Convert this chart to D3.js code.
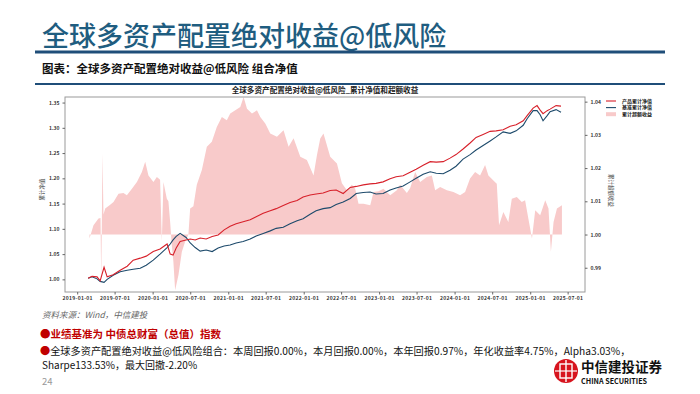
<!DOCTYPE html>
<html>
<head>
<meta charset="utf-8">
<script src="https://cdn.jsdelivr.net/npm/d3@7"></script>
<style>
  body { margin: 0; background: #fff; }
  svg { display: block; }
  text { font-family: "Noto Sans CJK SC", "Noto Sans", sans-serif; }
</style>
</head>
<body>
<svg id="chart" width="700" height="394"></svg>
<script>
// ---- data ----
const navDates = ["2019-02-23","2019-03-14","2019-04-07","2019-04-22","2019-05-11","2019-05-26","2019-06-24","2019-07-28","2019-08-31","2019-09-29","2019-11-02","2019-12-01",
  "2020-01-04","2020-02-06","2020-03-11","2020-03-26","2020-04-09","2020-04-24","2020-05-13","2020-06-11","2020-07-01","2020-07-25","2020-08-18","2020-09-16","2020-10-15","2020-11-13","2020-12-12",
  "2021-01-10","2021-02-08","2021-03-14","2021-04-17","2021-05-16","2021-06-19","2021-07-23","2021-08-21","2021-09-24","2021-10-27","2021-11-30","2021-12-29",
  "2022-02-01","2022-03-02","2022-04-05","2022-05-09","2022-06-07","2022-07-11","2022-08-14","2022-09-12","2022-10-16","2022-11-18","2022-12-17",
  "2023-01-20","2023-02-23","2023-03-24","2023-04-27","2023-05-31","2023-06-29","2023-08-02","2023-09-05","2023-10-04","2023-11-07","2023-12-10",
  "2024-01-08","2024-02-11","2024-03-16","2024-04-14","2024-05-18","2024-06-21","2024-07-20","2024-08-23","2024-09-26","2024-10-25","2024-11-28","2024-12-17",
  "2025-01-15","2025-02-03","2025-02-18","2025-03-04","2025-03-24","2025-04-07","2025-05-06","2025-05-30"];

const productNav = [1.002,1.006,1.005,0.997,1.024,1.005,1.009,1.018,1.026,1.038,1.042,1.046,
  1.055,1.060,1.070,1.050,1.048,1.062,1.075,1.078,1.080,1.078,1.082,1.080,1.085,1.088,1.098,
  1.105,1.110,1.114,1.118,1.124,1.131,1.136,1.140,1.146,1.152,1.156,1.163,
  1.167,1.169,1.171,1.176,1.177,1.170,1.182,1.184,1.187,1.189,1.190,
  1.193,1.199,1.203,1.205,1.212,1.218,1.226,1.233,1.232,1.233,1.240,
  1.247,1.258,1.270,1.281,1.287,1.293,1.294,1.296,1.303,1.306,1.314,1.324,
  1.339,1.344,1.335,1.328,1.334,1.337,1.344,1.343];

const benchNav = [1.002,1.005,1.001,0.996,0.994,1.000,1.008,1.015,1.018,1.020,1.022,1.028,
  1.038,1.050,1.063,1.070,1.078,1.085,1.091,1.083,1.072,1.063,1.056,1.058,1.055,1.062,1.066,
  1.068,1.072,1.075,1.080,1.086,1.091,1.096,1.101,1.103,1.110,1.116,1.120,
  1.129,1.136,1.140,1.142,1.148,1.153,1.160,1.170,1.172,1.173,1.169,
  1.170,1.177,1.181,1.185,1.193,1.200,1.208,1.213,1.210,1.209,1.216,
  1.224,1.238,1.247,1.256,1.265,1.274,1.282,1.292,1.289,1.294,1.305,1.318,
  1.334,1.334,1.326,1.314,1.324,1.332,1.336,1.331];

// excess return: time as decimal year, value on the right axis
const excessT = [2019.163,2019.216,2019.282,2019.309,2019.318,2019.327,2019.335,2019.348,2019.371,2019.437,2019.481,2019.547,2019.613,2019.658,2019.725,2019.791,2019.857,2019.901,2019.944,
  2020.011,2020.056,2020.099,2020.122,2020.143,2020.188,2020.209,2020.232,2020.254,2020.275,2020.298,2020.342,2020.387,2020.430,2020.474,2020.497,2020.540,2020.585,2020.652,2020.718,2020.784,2020.850,2020.917,2020.983,
  2021.026,2021.093,2021.159,2021.203,2021.248,2021.314,2021.380,2021.424,2021.490,2021.556,2021.645,2021.732,2021.799,2021.865,2021.954,
  2022.042,2022.130,2022.175,2022.219,2022.262,2022.351,2022.440,2022.506,2022.572,2022.638,2022.682,2022.726,2022.792,2022.881,2022.925,2022.991,
  2023.057,2023.146,2023.234,2023.278,2023.367,2023.411,2023.477,2023.543,2023.632,2023.698,2023.742,2023.808,2023.897,2023.984,
  2024.073,2024.139,2024.205,2024.272,2024.338,2024.404,2024.448,2024.514,2024.559,2024.589,2024.646,2024.712,2024.758,2024.824,2024.890,2024.934,2024.977,
  2025.023,2025.066,2025.132,2025.199,2025.242,2025.274,2025.309,2025.354,2025.420];

const excessValues = [0.9988,1.0028,1.0048,1.0050,0.9857,1.0050,1.0244,1.0060,1.0078,1.0090,1.0098,1.0123,1.0125,1.0118,1.0138,1.0158,1.0188,1.0219,1.0178,
  1.0158,1.0173,1.0165,0.9978,1.0158,1.0108,1.0100,1.0038,0.9968,0.9918,0.9832,0.9878,0.9948,0.9978,1.0000,1.0078,1.0085,1.0150,1.0194,1.0264,1.0279,1.0324,1.0354,1.0344,
  1.0364,1.0374,1.0384,1.0414,1.0379,1.0364,1.0374,1.0354,1.0334,1.0304,1.0294,1.0314,1.0264,1.0290,1.0234,
  1.0224,1.0178,1.0239,1.0289,1.0304,1.0234,1.0214,1.0154,1.0133,1.0150,1.0138,1.0093,1.0093,1.0088,1.0128,1.0130,
  1.0138,1.0118,1.0133,1.0150,1.0125,1.0140,1.0188,1.0158,1.0173,1.0178,1.0133,1.0143,1.0133,1.0128,
  1.0118,1.0128,1.0169,1.0188,1.0178,1.0209,1.0178,1.0163,1.0153,1.0028,1.0068,1.0038,1.0108,1.0113,1.0098,1.0103,1.0048,
  0.9988,1.0073,1.0058,1.0103,1.0078,0.9948,1.0038,1.0078,1.0088];

const xTickLabels = ["2019-01-01","2019-07-01","2020-01-01","2020-07-01","2021-01-01","2021-07-01","2022-01-01","2022-07-01",
  "2023-01-01","2023-07-01","2024-01-01","2024-07-01","2025-01-01","2025-07-01"];
const leftTicks = [1.00,1.05,1.10,1.15,1.20,1.25,1.30,1.35];
const rightTicks = [0.99,1.00,1.01,1.02,1.03,1.04];
const seriesNames = ["产品累计净值","基准累计净值","累计超额收益"];
const colors = ["#d7202a","#1d4a6b","#f8caca"];

// ---- layout ----
const svg = d3.select("#chart");
const margin = {top: 97, right: 115, bottom: 102, left: 65};
const width = 700 - margin.left - margin.right;
const height = 394 - margin.top - margin.bottom;

const parseDate = d3.timeParse("%Y-%m-%d");
function fromDecimalYear(t) {
  const y = Math.floor(t);
  const start = new Date(y, 0, 1).getTime();
  return new Date(start + (t - y) * 365.25 * 86400000);
}

const navData = navDates.map(function(d, i) {
  return {date: parseDate(d), p: productNav[i], b: benchNav[i]};
});
const excessData = excessT.map(function(t, i) {
  return {date: fromDecimalYear(t), v: excessValues[i]};
});

const xScale = d3.scaleTime()
  .domain([new Date(2018, 10, 3), new Date(2025, 8, 23)])
  .range([0, width]);
const yLeft = d3.scaleLinear().domain([0.975, 1.361]).range([height, 0]);
const yRight = d3.scaleLinear().domain([0.9827, 1.0414]).range([height, 0]);

// ---- page header ----
svg.append("text")
  .attr("x", 42).attr("y", 46)
  .attr("font-size", 27).attr("font-weight", 500)
  .attr("fill", "#1f5d80")
  .text("全球多资产配置绝对收益@低风险");
svg.append("rect").attr("x", 35).attr("y", 50.5).attr("width", 630).attr("height", 3).attr("fill", "#1f4e79");
svg.append("text")
  .attr("x", 42).attr("y", 73)
  .attr("font-size", 11.5).attr("font-weight", 700)
  .attr("fill", "#111")
  .text("图表：全球多资产配置绝对收益@低风险  组合净值");
svg.append("rect").attr("x", 35).attr("y", 83).attr("width", 630).attr("height", 2).attr("fill", "#1f4e79");

// ---- chart ----
const g = svg.append("g").attr("transform", "translate(" + margin.left + "," + margin.top + ")");

const area = d3.area()
  .x(function(d) { return xScale(d.date); })
  .y0(yRight(1.0))
  .y1(function(d) { return yRight(d.v); });

g.append("path")
  .datum(excessData)
  .attr("fill", colors[2])
  .attr("d", area);

const lineP = d3.line().x(function(d) { return xScale(d.date); }).y(function(d) { return yLeft(d.p); });
const lineB = d3.line().x(function(d) { return xScale(d.date); }).y(function(d) { return yLeft(d.b); });

g.append("path").datum(navData)
  .attr("fill", "none").attr("stroke", colors[1]).attr("stroke-width", 1.1)
  .attr("d", lineB);
g.append("path").datum(navData)
  .attr("fill", "none").attr("stroke", colors[0]).attr("stroke-width", 1.1)
  .attr("d", lineP);

// frame
g.append("rect")
  .attr("width", width).attr("height", height)
  .attr("fill", "none").attr("stroke", "#9a9a9a").attr("stroke-width", 1);

// axes
const xAxis = d3.axisBottom(xScale)
  .tickValues(xTickLabels.map(parseDate))
  .tickFormat(d3.timeFormat("%Y-%m-%d"))
  .tickSize(2.5).tickPadding(2);
const gx = g.append("g").attr("transform", "translate(0," + height + ")").call(xAxis);

const gl = g.append("g").call(d3.axisLeft(yLeft).tickValues(leftTicks).tickFormat(d3.format(".2f")).tickSize(2.5).tickPadding(3));
const gr = g.append("g").attr("transform", "translate(" + width + ",0)")
  .call(d3.axisRight(yRight).tickValues(rightTicks).tickFormat(d3.format(".2f")).tickSize(2.5).tickPadding(3));

[gx, gl, gr].forEach(function(ax) {
  ax.select(".domain").remove();
  ax.selectAll(".tick line").attr("stroke", "#666");
  ax.selectAll(".tick text")
    .attr("font-size", 5).attr("font-weight", 700).attr("fill", "#333")
    .attr("font-family", "DejaVu Sans");
});
gx.selectAll(".tick text").attr("letter-spacing", 0.3);

// axis titles
g.append("text")
  .attr("transform", "translate(-21," + (height / 2 - 5) + ") rotate(-90)")
  .attr("text-anchor", "middle").attr("font-size", 5.5).attr("fill", "#444")
  .text("累计净值");
g.append("text")
  .attr("transform", "translate(" + (width + 24) + "," + (height / 2 - 4) + ") rotate(90)")
  .attr("text-anchor", "middle").attr("font-size", 5.5).attr("fill", "#444")
  .text("累计超额收益");

// chart title
g.append("text")
  .attr("x", width / 2).attr("y", -4)
  .attr("text-anchor", "middle")
  .attr("font-size", 7.6).attr("font-weight", 700).attr("fill", "#222")
  .text("全球多资产配置绝对收益@低风险_累计净值和超额收益");

// legend
const legend = svg.append("g").attr("transform", "translate(606,101)");
seriesNames.forEach(function(name, i) {
  const row = legend.append("g").attr("transform", "translate(0," + (i * 6.6) + ")");
  if (i < 2) {
    row.append("line").attr("x1", 0).attr("x2", 10).attr("y1", 0).attr("y2", 0)
      .attr("stroke", colors[i]).attr("stroke-width", 1.1);
  } else {
    row.append("rect").attr("x", 0).attr("y", -2).attr("width", 10).attr("height", 4).attr("fill", colors[2]);
  }
  row.append("text").attr("x", 16).attr("y", 1.8).attr("font-size", 5).attr("font-weight", 700)
    .attr("fill", "#222").text(name);
});

// ---- footer ----
svg.append("text")
  .attr("x", 42).attr("y", 318)
  .attr("font-size", 8.5).attr("font-style", "italic").attr("fill", "#666")
  .text("资料来源：Wind，中信建投");

const f1 = svg.append("text").attr("x", 40).attr("y", 338)
  .attr("font-size", 10.5).attr("font-weight", 700).attr("fill", "#c00000");
f1.append("tspan").text("●业绩基准为 ");
f1.append("tspan").text("中债总财富（总值）指数");

const f2 = svg.append("text").attr("x", 40).attr("y", 354.5).attr("font-size", 10.2).attr("fill", "#111");
f2.append("tspan").attr("fill", "#c00000").text("●");
f2.append("tspan").text("全球多资产配置绝对收益@低风险组合：本周回报0.00%，本月回报0.00%，本年回报0.97%，年化收益率4.75%，Alpha3.03%，");
svg.append("text").attr("x", 42).attr("y", 369).attr("font-size", 10).attr("fill", "#111")
  .text("Sharpe133.53%，最大回撤-2.20%");
svg.append("text").attr("x", 42).attr("y", 385).attr("font-size", 9.5).attr("fill", "#999").text("24");

// logo
const logo = svg.append("g").attr("transform", "translate(566,371)");
logo.append("circle").attr("r", 12).attr("fill", "#d7141e");
logo.append("rect").attr("x", -6).attr("y", -7).attr("width", 12).attr("height", 14)
  .attr("fill", "none").attr("stroke", "#fff").attr("stroke-width", 1.4);
logo.append("line").attr("x1", 0).attr("x2", 0).attr("y1", -11).attr("y2", 11).attr("stroke", "#fff").attr("stroke-width", 1.4);
logo.append("line").attr("x1", -11).attr("x2", 11).attr("y1", 0).attr("y2", 0).attr("stroke", "#fff").attr("stroke-width", 1.2);
svg.append("text").attr("x", 581).attr("y", 372).attr("font-size", 13.5).attr("font-weight", 700)
  .attr("fill", "#111").text("中信建投证券");
svg.append("text").attr("x", 581).attr("y", 384).attr("font-size", 7.2).attr("font-weight", 700)
  .attr("fill", "#111").attr("font-family", "Roboto, sans-serif").text("CHINA SECURITIES");
</script>
</body>
</html>
